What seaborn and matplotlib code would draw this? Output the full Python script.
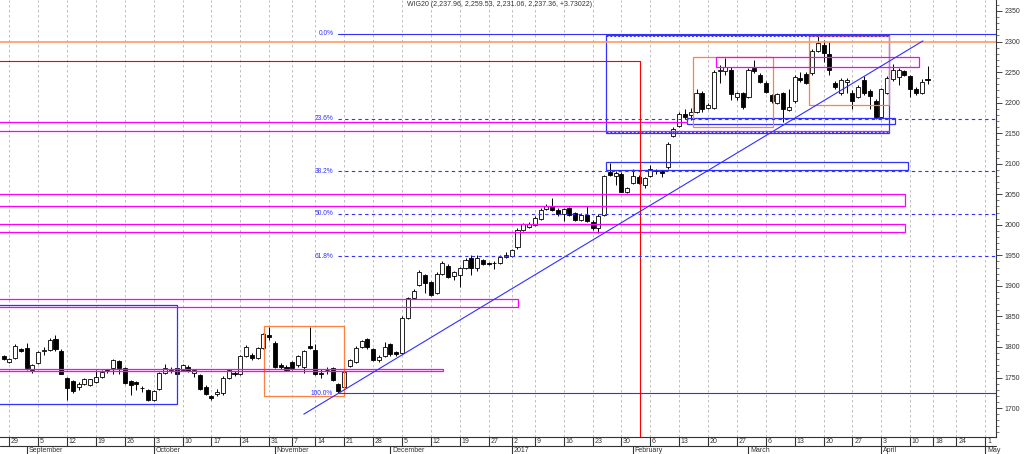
import numpy as np
import pandas as pd
import matplotlib
matplotlib.use("Agg")
import matplotlib.pyplot as plt
import matplotlib.transforms as mtransforms
from matplotlib.patches import Rectangle
import seaborn as sns

# WSE trading calendar shown on the axis (Aug 26 2016 .. early May 2017)
holidays = ["2016-11-01", "2016-11-11", "2016-12-26", "2017-01-06",
            "2017-04-14", "2017-04-17"]
days = pd.bdate_range("2016-08-26", "2017-05-05")
days = days[~days.isin(pd.to_datetime(holidays))]

# daily WIG20 candles, Aug 26 2016 .. Apr 13 2017
opens = [1785, 1775, 1782, 1797, 1799, 1763, 1774, 1793, 1795, 1813,
         1794, 1749, 1744, 1734, 1740, 1738, 1743, 1751, 1762, 1765,
         1777, 1765, 1744, 1743, 1733, 1729, 1713, 1731, 1757, 1763,
         1765, 1762, 1768, 1757, 1754, 1735, 1720, 1723, 1725, 1749,
         1758, 1755, 1786, 1787, 1782, 1798, 1820, 1807, 1771, 1768,
         1775, 1770, 1768, 1802, 1795, 1758, 1762, 1765, 1739, 1734,
         1769, 1776, 1800, 1813, 1796, 1779, 1785, 1805, 1791, 1790,
         1847, 1880, 1901, 1917, 1906, 1888, 1920, 1933, 1916, 1917,
         1930, 1946, 1930, 1942, 1937, 1937, 1937, 1948, 1949, 1963,
         1992, 1996, 2000, 2010, 2026, 2031, 2025, 2017, 2027, 2019,
         2008, 2016, 2005, 1994, 2016, 2087, 2080, 2083, 2054, 2068,
         2079, 2065, 2080, 2088, 2088, 2094, 2145, 2162, 2181, 2180,
         2185, 2216, 2192, 2192, 2252, 2252, 2253, 2210, 2215, 2210,
         2256, 2245, 2232, 2212, 2199, 2216, 2188, 2202, 2241, 2247,
         2248, 2285, 2294, 2280, 2232, 2216, 2234, 2216, 2210, 2237,
         2219, 2203, 2176, 2216, 2238, 2242, 2252, 2244, 2223, 2216,
         2237.96]
highs = [1787, 1782, 1805, 1799, 1806, 1772, 1794, 1800, 1814, 1820,
         1796, 1751, 1746, 1742, 1749, 1748, 1763, 1762, 1764, 1780,
         1779, 1767, 1746, 1745, 1736, 1731, 1730, 1759, 1772, 1768,
         1767, 1772, 1770, 1764, 1756, 1737, 1722, 1731, 1753, 1764,
         1760, 1787, 1803, 1790, 1800, 1823, 1833, 1809, 1774, 1770,
         1777, 1787, 1795, 1833, 1805, 1764, 1767, 1768, 1741, 1761,
         1781, 1801, 1812, 1815, 1798, 1787, 1808, 1807, 1793, 1850,
         1882, 1895, 1926, 1920, 1908, 1922, 1940, 1935, 1924, 1931,
         1945, 1951, 1950, 1944, 1939, 1941, 1950, 1955, 1961, 1994,
         2003, 2005, 2014, 2028, 2034, 2044, 2027, 2028, 2029, 2021,
         2019, 2030, 2008, 2018, 2082, 2101, 2088, 2087, 2062, 2091,
         2081, 2079, 2098, 2092, 2090, 2135, 2160, 2185, 2190, 2192,
         2222, 2219, 2200, 2253, 2262, 2273, 2258, 2218, 2217, 2256,
         2270, 2248, 2235, 2214, 2216, 2218, 2222, 2245, 2250, 2250,
         2287, 2313, 2303, 2300, 2236, 2240, 2241, 2220, 2229, 2243,
         2222, 2206, 2224, 2243, 2264, 2256, 2254, 2246, 2226, 2239,
         2259.53]
lows = [1778, 1773, 1780, 1791, 1763, 1758, 1772, 1787, 1793, 1794,
        1755, 1713, 1725, 1730, 1738, 1736, 1741, 1749, 1758, 1755,
        1755, 1739, 1721, 1730, 1726, 1711, 1711, 1729, 1755, 1758,
        1754, 1760, 1759, 1751, 1729, 1721, 1713, 1719, 1722, 1747,
        1752, 1754, 1784, 1779, 1780, 1796, 1812, 1765, 1764, 1760,
        1762, 1768, 1757, 1796, 1754, 1750, 1755, 1745, 1724, 1730,
        1767, 1774, 1798, 1797, 1777, 1776, 1783, 1785, 1785, 1788,
        1845, 1878, 1899, 1888, 1884, 1886, 1918, 1913, 1910, 1898,
        1928, 1918, 1925, 1934, 1934, 1927, 1935, 1946, 1947, 1961,
        1990, 1994, 1998, 2008, 2024, 2023, 2015, 2007, 2014, 2006,
        2006, 2005, 1992, 1987, 2014, 2080, 2065, 2053, 2052, 2066,
        2066, 2060, 2078, 2083, 2078, 2092, 2143, 2160, 2173, 2172,
        2183, 2185, 2190, 2190, 2232, 2245, 2204, 2205, 2190, 2207,
        2249, 2232, 2215, 2200, 2197, 2169, 2186, 2200, 2234, 2230,
        2246, 2283, 2267, 2245, 2222, 2212, 2215, 2190, 2208, 2212,
        2189, 2174, 2174, 2214, 2236, 2229, 2243, 2210, 2213, 2214,
        2231.06]
closes = [1780, 1780, 1801, 1793, 1765, 1770, 1792, 1795, 1811, 1796,
          1756, 1733, 1728, 1739, 1748, 1747, 1751, 1759, 1760, 1778,
          1765, 1741, 1737, 1740, 1732, 1713, 1728, 1757, 1765, 1764,
          1756, 1770, 1761, 1762, 1731, 1723, 1716, 1727, 1749, 1762,
          1755, 1785, 1800, 1782, 1798, 1821, 1816, 1768, 1767, 1762,
          1766, 1785, 1793, 1799, 1756, 1756, 1763, 1746, 1728, 1759,
          1779, 1799, 1809, 1800, 1779, 1784, 1800, 1788, 1788, 1848,
          1880, 1891, 1923, 1904, 1885, 1920, 1937, 1915, 1922, 1929,
          1942, 1930, 1946, 1936, 1936, 1938, 1948, 1951, 1959, 1992,
          2001, 2001, 2011, 2025, 2031, 2025, 2018, 2026, 2016, 2008,
          2016, 2007, 1994, 2015, 2080, 2082, 2085, 2054, 2060, 2080,
          2068, 2076, 2091, 2089, 2085, 2133, 2156, 2181, 2176, 2184,
          2216, 2189, 2196, 2250, 2254, 2258, 2214, 2215, 2193, 2254,
          2252, 2234, 2218, 2202, 2214, 2189, 2193, 2242, 2237, 2232,
          2284, 2297, 2282, 2254, 2226, 2237, 2237, 2202, 2226, 2215,
          2211, 2176, 2222, 2240, 2254, 2254, 2245, 2222, 2215, 2233.63,
          2237.36]

# drawn studies (positions in trading days, prices in index points)
fib_start = 58
fib_levels = [2312.5, 2173.5, 2087.5, 2018.0, 1948.5, 1724.5]
fib_names = ["0.0%", "23.6%", "38.2%", "50.0%", "61.8%", "100.0%"]
trend_x = [52.0, 159.2]
trend_y = [1690, 2301]
orange_level = 2300
red_level = 2268
red_x = 110.2
blue_boxes = [(-2, 30.0, 1706.5, 1869), (104.3, 153.3, 2149.5, 2311),
              (118.3, 154.4, 2164.5, 2175.3), (104.3, 156.6, 2089.7, 2102.8)]
orange_boxes = [(45.1, 58.9, 1719.7, 1834.3), (119.4, 133.2, 2160.6, 2274.2),
                (139.5, 153.3, 2196, 2309.6)]
magenta_boxes = [(-2, 76.1, 1760.6, 1764.4), (-2, 89.1, 1866, 1878),
                 (-2, 156.1, 2030.8, 2050.4), (-2, 156.1, 1988, 2001.3),
                 (123.4, 158.5, 2257.8, 2275.2)]
magenta_lines = [(-2, 118.3, 2168.8), (-2, 153.3, 2153.5)]

title = "WIG20 (2,237.96, 2,259.53, 2,231.06, 2,237.36, +3.73022)"

sns.set_theme(style="white")
plt.rcParams["font.family"] = ["Liberation Sans", "DejaVu Sans"]

BLUE = "#3030ff"
ORANGE_LINE = "#ff9a66"
ORANGE = "#ff8040"
MAGENTA = "#ff00ff"
RED = "#ff0000"
TXT = "#333333"

fig = plt.figure(figsize=(10.24, 4.54), dpi=100)
ax = fig.add_axes([0, 17 / 454, 996 / 1024, 437 / 454])
ax.set_facecolor("white")

x_lo, x_hi = -0.61, 171.86
y_lo, y_hi = 1652.6, 2368
ax.set_xlim(x_lo, x_hi)
ax.set_ylim(y_lo, y_hi)

# weekly and monthly ticks from the trading calendar
week_pos = [k for k in range(1, len(days)) if days[k].weekday() <= days[k - 1].weekday()]
month_pos = [k for k in range(1, len(days)) if days[k].month != days[k - 1].month]
month_names = {1: "2017", 2: "February", 3: "March", 4: "April", 5: "May",
               9: "September", 10: "October", 11: "November", 12: "December"}

ax.vlines(week_pos, y_lo, y_hi, colors="#b4b4b4", linestyles=(0, (3, 3)),
          linewidth=0.6, zorder=0)

# candles
df = pd.DataFrame({"o": opens, "h": highs, "l": lows, "c": closes})
df["x"] = np.arange(len(df))
up = df["c"] >= df["o"]
ax.vlines(df["x"], df["l"], df["h"], colors="black", linewidth=0.7, zorder=2)
body = (df["c"] - df["o"]).abs().clip(lower=0.8)
ax.bar(df["x"], body, bottom=df[["o", "c"]].min(axis=1), width=0.7,
       color=np.where(up, "white", "black"), edgecolor="black",
       linewidth=0.6, zorder=3)

# boxes and levels
def box(x0, x1, y0, y1, color, lw=0.9):
    ax.add_patch(Rectangle((x0, y0), x1 - x0, y1 - y0, fill=False,
                           edgecolor=color, linewidth=lw, zorder=4))

for b in blue_boxes:
    box(*b, BLUE)
for b in orange_boxes:
    box(*b, ORANGE)
for b in magenta_boxes:
    box(*b, MAGENTA)
for x0, x1, yv in magenta_lines:
    ax.plot([x0, x1], [yv, yv], color=MAGENTA, lw=0.9, zorder=4)

# dotted inner edges of the big blue box
bx0, bx1, by0, by1 = blue_boxes[1]
for yv in (by0 + 2.5, by1 - 2.5):
    ax.plot([bx0, bx1], [yv, yv], color=BLUE, lw=0.7, ls=(0, (2, 2)), zorder=4)

ax.axhline(orange_level, color=ORANGE_LINE, lw=1.2, zorder=4)
ax.plot([x_lo - 1, red_x], [red_level, red_level], color=RED, lw=0.8, zorder=4)
ax.plot([red_x, red_x], [y_lo, red_level], color=RED, lw=0.8, zorder=4)

for lvl, name in zip(fib_levels, fib_names):
    ls = "-" if name in ("0.0%", "100.0%") else (0, (3, 3))
    ax.plot([fib_start, x_hi + 1], [lvl, lvl], color=BLUE, lw=0.8, ls=ls, zorder=4)
    ax.text(fib_start - 0.9, lvl, name, ha="right", va="center",
            fontsize=4.8, color=BLUE, zorder=5)

sns.lineplot(x=trend_x, y=trend_y, ax=ax, color=BLUE, linewidth=0.8, zorder=4)

# right price axis
ax.yaxis.tick_right()
ax.set_yticks(np.arange(1700, 2351, 50))
ax.set_yticks(np.arange(1660, 2361, 10), minor=True)
ax.tick_params(axis="y", which="major", length=4, width=0.7, pad=2,
               labelsize=5, labelcolor=TXT, color="#444444", right=True, left=False)
ax.tick_params(axis="y", which="minor", length=2, width=0.5, color="#444444",
               right=True, left=False)
ax.set_xticks([])
for s in ("top", "left"):
    ax.spines[s].set_visible(False)
for s in ("right", "bottom"):
    ax.spines[s].set_color("#333333")
    ax.spines[s].set_linewidth(0.8)

# two-row date axis under the plot
tr = mtransforms.blended_transform_factory(ax.transData, ax.transAxes)
row = 9 / 437
ax.plot([0, 1], [-row, -row], transform=ax.transAxes, color="#333333",
        lw=0.8, clip_on=False)
for k in week_pos:
    ax.plot([k, k], [0, -row], transform=tr, color="#333333", lw=0.8, clip_on=False)
    ax.text(k + 0.3, -row / 2, str(days[k].day), transform=tr, ha="left",
            va="center", fontsize=5, color=TXT)
for k in month_pos:
    ax.plot([k, k], [-row, -0.06], transform=tr, color="#333333", lw=0.8, clip_on=False)
    ax.text(k + 0.3, -row - 0.0095, month_names[days[k].month], transform=tr,
            ha="left", va="center", fontsize=5, color=TXT)

fig.text(500 / 1024, 1 - 5 / 454, title, ha="center", va="center",
         fontsize=5, color=TXT)

fig.savefig("out.png", dpi=100)
